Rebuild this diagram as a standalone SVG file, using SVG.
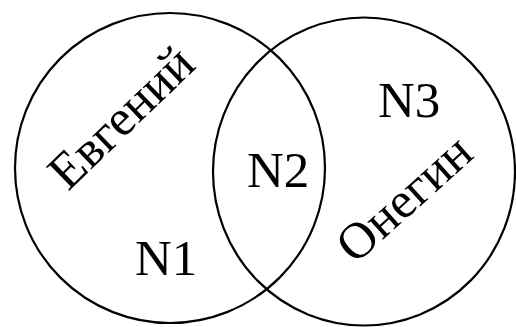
<svg xmlns="http://www.w3.org/2000/svg" width="516" height="327" viewBox="0 0 516 327">
<style>
.c{fill:none;stroke:#000;stroke-width:2.2}
.t{font-family:"Liberation Serif","Times New Roman",serif;font-size:51px;fill:#000}
</style>
<rect width="516" height="327" fill="#fff"/>
<g id="set-left">
<circle class="c" cx="170" cy="168" r="155"/>
<text class="t" transform="translate(68,192) rotate(-44)">Евгений</text>
<text class="t" x="135" y="275">N1</text>
</g>
<g id="set-right">
<ellipse class="c" cx="364" cy="171.5" rx="151" ry="154"/>
<text class="t" transform="translate(355,265) rotate(-42)">Онегин</text>
<text class="t" x="378" y="117">N3</text>
</g>
<g id="intersection">
<text class="t" x="247" y="187">N2</text>
</g>
</svg>
